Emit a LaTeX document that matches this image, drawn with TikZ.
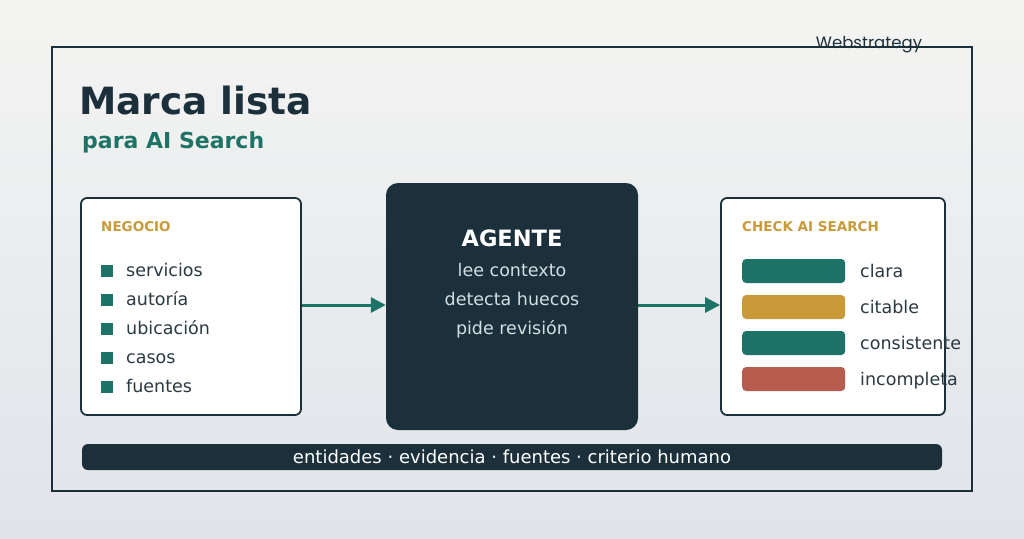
\documentclass[tikz,border=0pt]{standalone}
\usepackage{fontspec}
\setmainfont{DejaVu Sans}
\newfontfamily\brandfont{Poppins}
\usetikzlibrary{arrows.meta,positioning}
\definecolor{ink}{HTML}{1B303B}
\definecolor{tealmark}{HTML}{1E7367}
\definecolor{goldmark}{HTML}{C99A3A}
\definecolor{redmark}{HTML}{B85C50}
\definecolor{itemtext}{HTML}{2A3A42}
\definecolor{softtext}{HTML}{D3DEE2}
\definecolor{bgtop}{HTML}{F4F4F2}
\definecolor{bgbot}{HTML}{E0E4EA}
\newcommand{\fs}[1]{\fontsize{#1}{#1}\selectfont}

\begin{document}
\begin{tikzpicture}[x=1pt,y=-1pt,
  panel/.style={draw=ink,line width=1.8pt,fill=white,rounded corners=6pt,minimum width=220pt,minimum height=217pt,inner sep=0pt},
  head/.style={anchor=west,inner sep=0pt,font=\fs{13.5}\bfseries,text=goldmark},
  item/.style={anchor=west,inner sep=0pt,font=\fs{17.5},text=itemtext,text height=12pt,text depth=4pt},
  bar/.style={fill=#1,rounded corners=4pt,minimum width=103pt,minimum height=24pt,inner sep=0pt,anchor=west},
  flow/.style={tealmark,line width=3pt,-{Triangle[length=15pt,width=15pt]}}]
\shade[top color=bgtop,bottom color=bgbot] (0,0) rectangle (1024,538);
\useasboundingbox (0,0) rectangle (1024,538);
\draw[ink,line width=2.5pt] (52,47) rectangle (972,491);
\node[inner sep=0pt,font=\brandfont\fs{16.5},text=ink] (brand) at (869,45) {Webstrategy};
% titulo
\node[anchor=west,inner sep=0pt,font=\fs{37.5}\bfseries,text=ink] (title) at (79,101) {Marca lista};
\node[anchor=west,inner sep=0pt,font=\fs{22}\bfseries,text=tealmark] (sub) at (82,142) {para AI Search};
% negocio
\node[panel] (neg) at (191,306.5) {};
\node[head] (neghead) at (101,227) {NEGOCIO};
\foreach \t [count=\i] in {servicios,autoría,ubicación,casos,fuentes}{
  \fill[tealmark] (101,{271+29*(\i-1)-6}) rectangle ++(12,12);
  \node[item] (neg\i) at (126,{272.5+29*(\i-1)}) {\t};
}
% agente
\node[fill=ink,rounded corners=12pt,minimum width=252pt,minimum height=247pt,inner sep=0pt] (agent) at (512,306.5) {};
\node[font=\fs{22.5}\bfseries,text=white,inner sep=0pt] (agenthead) at (512,238) {AGENTE};
\foreach \t [count=\i] in {lee contexto,detecta huecos,pide revisión}{
  \node[font=\fs{17.5},text=softtext,inner sep=0pt,text height=12pt,text depth=4pt] (agent\i) at (512,{272.5+29*(\i-1)}) {\t};
}
% check
\node[panel,minimum width=224pt] (chk) at (833,306.5) {};
\node[head] (chkhead) at (742,227) {CHECK AI SEARCH};
\foreach \c/\t [count=\i] in {tealmark/clara,goldmark/citable,tealmark/consistente,redmark/incompleta}{
  \node[bar=\c] (bar\i) at (742,{271+36*(\i-1)}) {};
  \node[item] (chk\i) at (860,{273.5+36*(\i-1)}) {\t};
}
% flechas
\draw[flow] (neg.east |- 0,305) -- (agent.west |- 0,305);
\draw[flow] (agent.east |- 0,305) -- (chk.west |- 0,305);
% pie
\node[fill=ink,rounded corners=6pt,minimum width=860pt,minimum height=26pt,inner sep=0pt,text=white,font=\fs{18},text height=12.5pt,text depth=4pt] (foot) at (512,457) {\raisebox{-2pt}{entidades · evidencia · fuentes · criterio humano}};
\end{tikzpicture}
\end{document}
